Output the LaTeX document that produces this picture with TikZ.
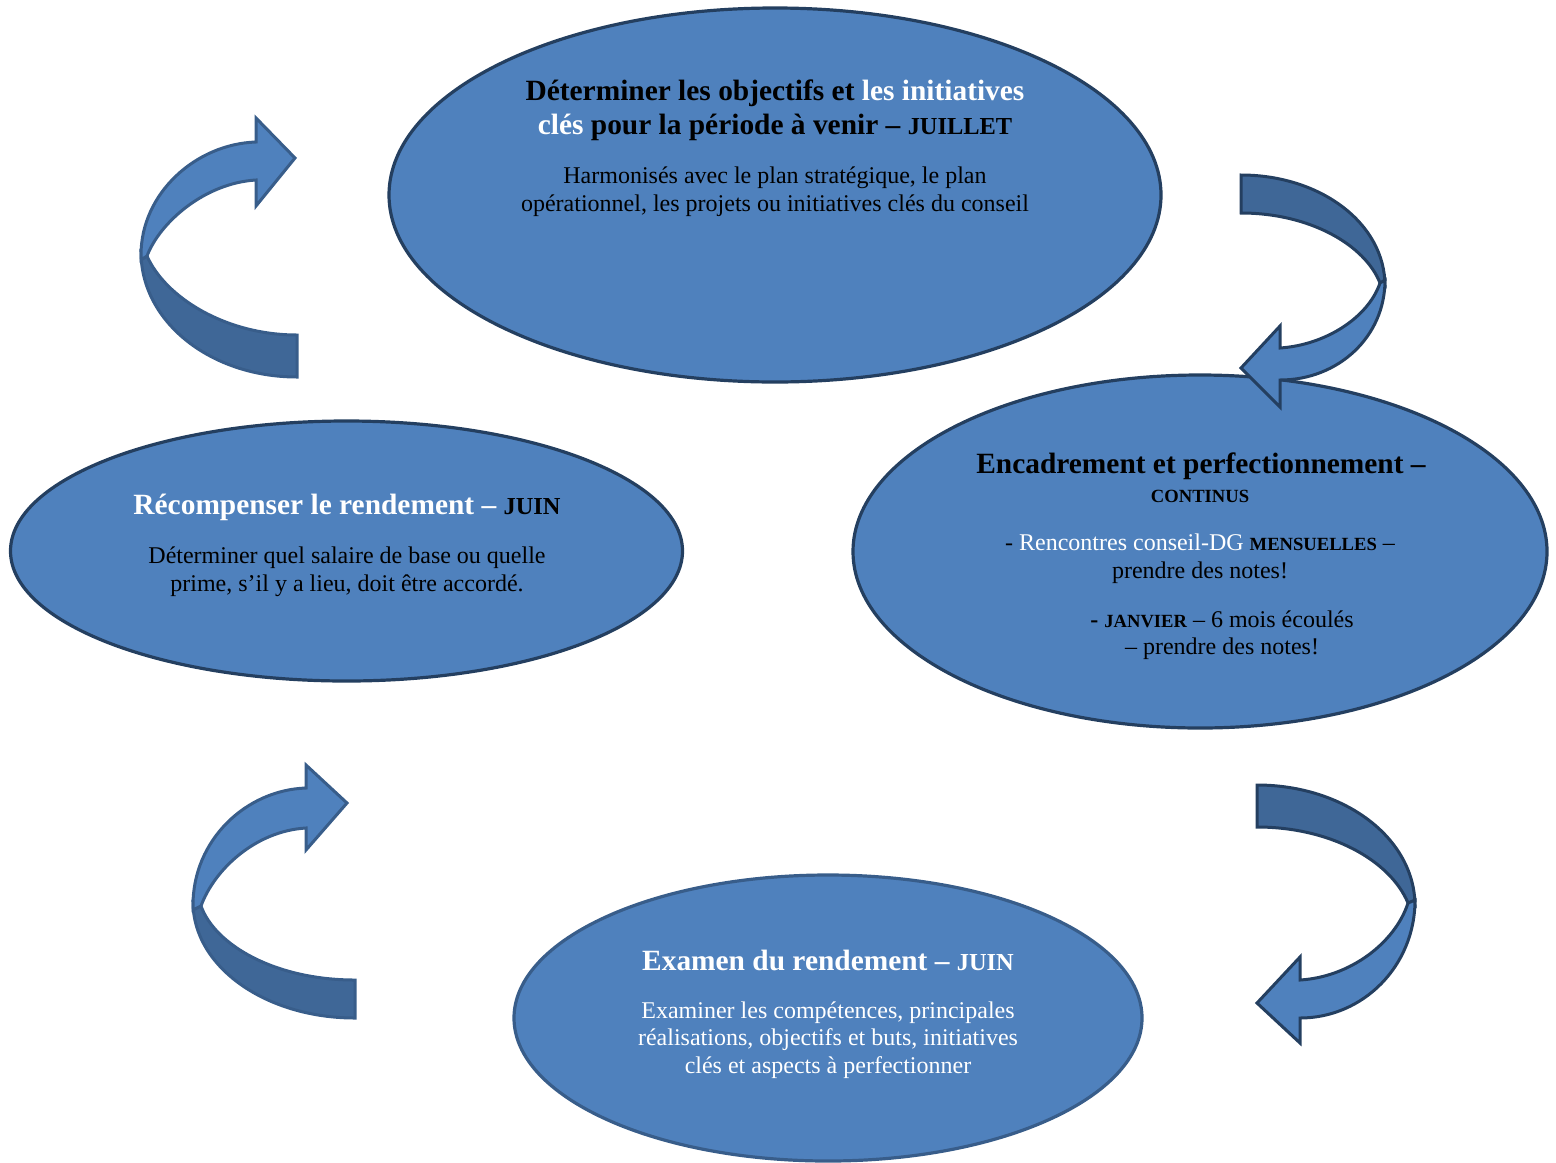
\documentclass[tikz,border=0pt]{standalone}
\usepackage{fontspec}
\setmainfont{Liberation Serif}
\usetikzlibrary{shapes.geometric}
\definecolor{fillblue}{HTML}{4F81BD}
\definecolor{darkband}{HTML}{3F6797}
\definecolor{navy}{HTML}{243F60}
\definecolor{midnavy}{HTML}{385D8A}
\newcommand{\ttl}{\fontsize{14.7}{17}\selectfont\bfseries}
\newcommand{\bdy}{\fontsize{12}{13.8}\selectfont}
\newcommand{\capsm}[1]{{\fontsize{12.2}{13}\selectfont\bfseries #1}}
\newcommand{\capxs}[1]{{\fontsize{9.3}{11}\selectfont\bfseries #1}}
\begin{document}
\begin{tikzpicture}[x=0.5pt,y=-0.5pt,
  oval/.style={ellipse, draw=navy, fill=fillblue, line width=1.6pt, inner sep=0pt},
  txt/.style={align=center, inner sep=0pt},
  lightband/.style={fill=fillblue, line width=1.5pt, line join=miter},
  backband/.style={fill=darkband, line width=1.5pt, line join=miter}]
\useasboundingbox (0,0) rectangle (1556,1162);
% ellipses
\node[oval, minimum width=386pt, minimum height=187pt] (top) at (775,195) {};
\node[oval, minimum width=347pt, minimum height=176.5pt] (right) at (1200,551.5) {};
\node[oval, minimum width=336pt, minimum height=130pt] (left) at (346.5,551) {};
\node[oval, draw=midnavy, minimum width=314pt, minimum height=143pt] (bottom) at (828,1018) {};
% texts top
\node[txt, font=\ttl] (toptitle) at (775,110) {D\'eterminer les objectifs et \textcolor{white}{les initiatives}\\\textcolor{white}{cl\'es} pour la p\'eriode \`a venir -- \capsm{JUILLET}};
\node[txt, font=\bdy] (topbody) at (775,192) {Harmonis\'es avec le plan strat\'egique, le plan\\op\'erationnel, les projets ou initiatives cl\'es du conseil};
% texts right
\node[txt, font=\ttl] (righttitle) at (1201,466) {Encadrement et perfectionnement --};
\node[txt] (rightcont) at (1200,496) {\capxs{CONTINUS}};
\node[txt, font=\fontsize{12}{13.8}\selectfont] (rightb1) at (1200,559) {- \textcolor{white}{Rencontres conseil-DG} \capxs{MENSUELLES} --\\prendre des notes!};
\node[txt, font=\fontsize{12}{13.8}\selectfont] (rightb2) at (1222,635) {\textbf{-} \capxs{JANVIER} -- 6 mois \'ecoul\'es\\-- prendre des notes!};
% texts left
\node[txt, font=\ttl] (lefttitle) at (347,507) {\textcolor{white}{R\'ecompenser le rendement --} \capsm{JUIN}};
\node[txt, font=\bdy] (leftbody) at (347,572) {D\'eterminer quel salaire de base ou quelle\\prime, s'il y a lieu, doit \^etre accord\'e.};
% texts bottom
\node[txt, font=\ttl, text=white] (bottitle) at (828,960) {Examen du rendement -- \capsm{JUIN}};
\node[txt, font=\bdy, text=white] (botbody) at (828,1040) {Examiner les comp\'etences, principales\\r\'ealisations, objectifs et buts, initiatives\\cl\'es et aspects \`a perfectionner};
% arrow top-left
\path[backband, draw=midnavy] (141,252) .. controls (141,322) and (211,377) .. (297,377) -- (297,335) .. controls (225,335) and (165,297) .. (147,256) -- cycle;
\path[lightband, draw=midnavy] (141,260) -- (141,255) .. controls (141,193) and (196,144) .. (256,142) -- (256,118) -- (295,158) -- (256,206) -- (256,180) .. controls (205,183) and (160,222) .. (147,256) -- cycle;
% arrow bottom-left
\path[backband, draw=midnavy] (193,902) .. controls (193,967) and (266,1018) .. (355,1018) -- (355,980) .. controls (275,980) and (215,945) .. (201,906) -- cycle;
\path[lightband, draw=midnavy] (193,910) -- (193,905) .. controls (193,840) and (246,790) .. (306,788) -- (306,765) -- (347,803) -- (306,850) -- (306,828) .. controls (255,831) and (214,870) .. (201,906) -- cycle;
% arrow top-right
\path[backband, draw=navy] (1241,175) .. controls (1320,175) and (1385,223) .. (1385,286) -- (1380,283) .. controls (1365,245) and (1310,213) .. (1241,213) -- cycle;
\path[lightband, draw=navy] (1385,280) .. controls (1385,337) and (1338,380) .. (1280,380) -- (1280,407) -- (1241,368) -- (1280,326) -- (1280,348) .. controls (1325,345) and (1368,318) .. (1380,283) -- cycle;
% arrow bottom-right
\path[backband, draw=navy] (1257,785) .. controls (1344,785) and (1415,838) .. (1415,906) -- (1408,903) .. controls (1390,860) and (1330,827) .. (1257,827) -- cycle;
\path[lightband, draw=navy] (1415,900) .. controls (1415,966) and (1363,1018) .. (1300,1018) -- (1300,1043) -- (1257,1003) -- (1300,957) -- (1300,980) .. controls (1350,977) and (1395,943) .. (1408,903) -- cycle;
\end{tikzpicture}
\end{document}
